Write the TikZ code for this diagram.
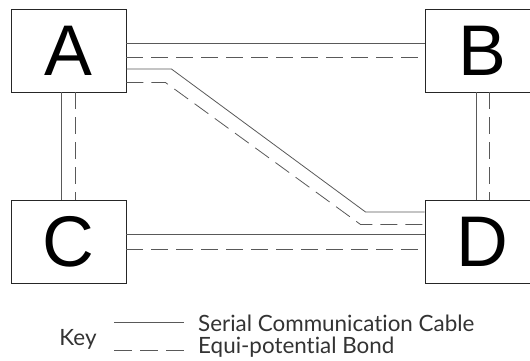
\documentclass[tikz,border=0pt]{standalone}
\usepackage{fontspec}
\setmainfont{Liberation Sans}
\newfontfamily\keyfont[Ligatures={NoCommon,NoDiscretionary}]{Lato}

\begin{document}
\begin{tikzpicture}[x=1bp,y=-1bp,
  unit/.style={draw=black!85,line width=0.9bp,minimum width=115bp,minimum height=83bp,inner sep=0pt,font=\fontsize{72}{72}\selectfont},
  cable/.style={draw=black!65,line width=0.8bp},
  bond/.style={draw=black!65,line width=0.8bp,dash pattern=on 17bp off 8bp},
  keytext/.style={font=\keyfont\fontsize{22.5}{22.5}\selectfont,text=black!80,anchor=base west,inner sep=0pt}]
\clip (0,0) rectangle (530,360);
% units
\node[unit] (A) at (68.5,50.5) {A};
\node[unit] (B) at (482.5,50.5) {B};
\node[unit] (C) at (68.5,241.5) {C};
\node[unit] (D) at (482.5,241.5) {D};
% A--B and C--D
\draw[cable] ([yshift=7bp]A.east) -- ([yshift=7bp]B.west);
\draw[bond] ([yshift=-7bp]A.east) -- ([yshift=-7bp]B.west);
\draw[cable] ([yshift=7.5bp]C.east) -- ([yshift=7.5bp]D.west);
\draw[bond] ([yshift=-7.5bp]C.east) -- ([yshift=-7.5bp]D.west);
% A--C and B--D
\draw[cable] ([xshift=-7bp]A.south) -- ([xshift=-7bp]C.north);
\draw[bond] ([xshift=7bp]A.south) -- ([xshift=7bp]C.north);
\draw[cable] ([xshift=-6bp]B.south) -- ([xshift=-6bp]D.north);
\draw[bond] ([xshift=7bp]B.south) -- ([xshift=7bp]D.north);
% A--D
\draw[cable] ([yshift=-18.5bp]A.east) -- ++(45,0)
  -- ([xshift=-59bp,yshift=29.5bp]D.west) -- ([yshift=29.5bp]D.west);
\draw[bond] ([yshift=-32bp]A.east) -- ++(39,0)
  -- ([xshift=-64bp,yshift=17bp]D.west) -- ([yshift=17bp]D.west);
% key
\node[keytext,anchor=base] (key) at (78,345) {Key};
\coordinate (s1) at (114,322);
\coordinate (s2) at (184,322);
\coordinate (b1) at (114,350);
\coordinate (b2) at (184,350);
\draw[cable] (s1) -- (s2);
\draw[bond,dash pattern=on 18bp off 8bp] (b1) -- (b2);
\node[keytext] (serial) at (198,331) {Serial Communication Cable};
\node[keytext] (equi) at (198,353.5) {Equi-potential Bond};
\end{tikzpicture}
\end{document}
